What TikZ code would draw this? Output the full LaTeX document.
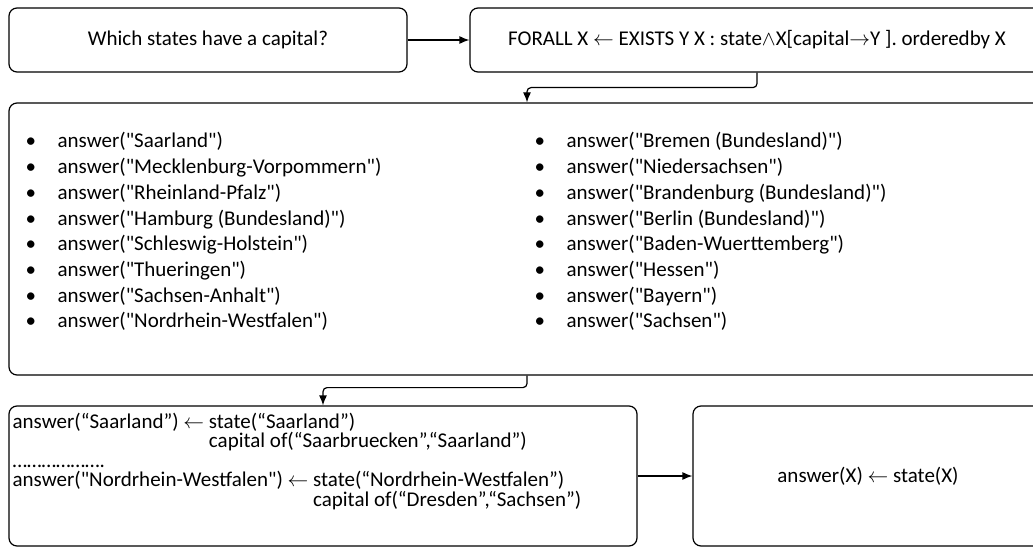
\documentclass[tikz,border=0pt]{standalone}
\usepackage{fontspec}
\setmainfont{Carlito}[Ligatures=TeXOff]
\usetikzlibrary{arrows.meta,calc}
\tikzset{>={Latex[length=10pt,width=8pt]},
         box/.style={draw,rounded corners=8pt,line width=1.2pt,inner sep=0pt,align=center},
         entry/.style={anchor=base west,inner sep=0pt}}

\begin{document}
\begin{tikzpicture}[x=1pt,y=-1pt,font=\fontsize{21}{25.7}\selectfont,line width=1.2pt]
  \useasboundingbox (0,0) rectangle (1033,548);
  \clip (0,0) rectangle (1033,548);
  % question, query, answers, rules
  \node[box,minimum width=398pt,minimum height=64pt] (q) at (208,40) {Which states have a capital?};
  \node[box,minimum width=574pt,minimum height=64pt] (f) at (757,40) {FORALL X $\leftarrow$ EXISTS Y X : state$\wedge$X[capital$\rightarrow$Y ]. orderedby X};
  \node[box,minimum width=1036pt,minimum height=272pt] (l) at (527,239) {};
  \node[box,minimum width=628pt,minimum height=140pt] (r) at (323,476) {};
  \node[box,minimum width=350pt,minimum height=140pt] (s) at (868,476) {answer(X) $\leftarrow$ state(X)};
  % answer list
  \foreach \st [count=\i from 0] in {Saarland,Mecklenburg-Vorpommern,Rheinland-Pfalz,Hamburg (Bundesland),Schleswig-Holstein,Thueringen,Sachsen-Anhalt,Nordrhein-Westfalen}
    \node[entry] (la\i) at (25,148+25.7*\i) {\makebox[32pt][l]{\textbullet}answer("\st")};
  \foreach \st [count=\i from 0] in {Bremen (Bundesland),Niedersachsen,Brandenburg (Bundesland),Berlin (Bundesland),Baden-Wuerttemberg,Hessen,Bayern,Sachsen}
    \node[entry] (lb\i) at (534,148+25.7*\i) {\makebox[32pt][l]{\textbullet}answer("\st")};
  % rule instances
  \node[entry] (r0) at (12,428) {answer(“Saarland”) $\leftarrow$ state(“Saarland”)};
  \node[entry] (r1) at (12,447.5) {\phantom{answer(“Saarland”) $\leftarrow$ }capital of(“Saarbruecken”,“Saarland”)};
  \node[entry] (r2) at (12,467) {……………….};
  \node[entry] (r3) at (12,486.5) {answer("Nordrhein-Westfalen") $\leftarrow$ state(“Nordrhein-Westfalen”)};
  \node[entry] (r4) at (12,506) {\phantom{answer("Nordrhein-Westfalen") $\leftarrow$ }capital of(“Dresden”,“Sachsen”)};
  % connectors
  \draw[->] (q) -- (f);
  \draw[->,rounded corners=4pt] (f.south) -- ++(0,15) -| (l.north);
  \draw[->,rounded corners=4pt] (l.south) -- ++(0,12) -| (r.north);
  \draw[->] (r) -- (s);
\end{tikzpicture}
\end{document}
